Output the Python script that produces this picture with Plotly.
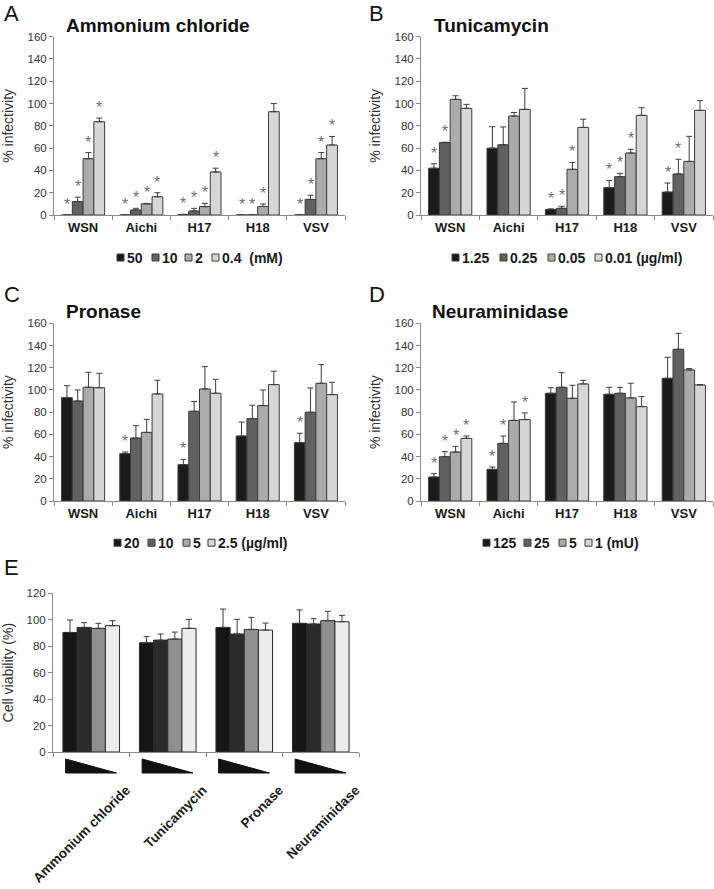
import plotly.graph_objects as go

W, H = 714, 889
FONT = "Liberation Sans, Arial, Helvetica, sans-serif"

# ---------------- data ----------------
viruses = ["WSN", "Aichi", "H17", "H18", "VSV"]

# Panel A: Ammonium chloride
A_title = "Ammonium chloride"
A_doses = ["50", "10", "2", "0.4  (mM)"]
A_vals = [
    [0, 0, 0.5, 0, 0],
    [12, 4.5, 3.6, 0, 14],
    [50.5, 10, 7.5, 7.6, 50.5],
    [83.7, 16.4, 38.6, 92.7, 62.8],
]
A_sd = [
    [0, 0, 0, 0, 0],
    [4, 1.5, 2.4, 0, 3.8],
    [5.5, 0.4, 3, 2.3, 5.5],
    [3.3, 3.6, 3.4, 7.3, 7.7],
]
A_sig = [
    [1, 1, 1, 1, 1],
    [1, 1, 1, 1, 1],
    [1, 1, 1, 1, 1],
    [1, 1, 1, 0, 1],
]

# Panel B: Tunicamycin
B_title = "Tunicamycin"
B_doses = ["1.25", "0.25", "0.05", "0.01 (µg/ml)"]
B_vals = [
    [42, 60, 5, 24.5, 20.6],
    [65, 63, 6, 34.4, 36.8],
    [103.8, 88.8, 41, 55.6, 48.1],
    [95.7, 94.8, 78.6, 89.4, 93.9],
]
B_sd = [
    [4, 19.2, 0.5, 6.5, 8.1],
    [0.3, 16, 1.8, 3, 13.2],
    [3.2, 3.2, 6.2, 3.4, 22.5],
    [3.6, 18.8, 7.4, 6.9, 8.7],
]
B_sig = [
    [1, 0, 1, 1, 1],
    [1, 0, 1, 1, 1],
    [0, 0, 1, 1, 0],
    [0, 0, 0, 0, 0],
]

# Panel C: Pronase
C_title = "Pronase"
C_doses = ["20", "10", "5", "2.5 (µg/ml)"]
C_vals = [
    [93, 42.6, 32.7, 58.5, 52.5],
    [90, 56.7, 80.8, 74.2, 79.9],
    [102.4, 61.8, 100.9, 85.9, 106],
    [102, 96.4, 97, 104.8, 95.8],
]
C_sd = [
    [10.9, 1.5, 4.8, 12.6, 8.5],
    [10, 11.1, 8.7, 12, 21.9],
    [13.5, 11.7, 20.1, 14.1, 16.8],
    [13, 12.3, 12.6, 12, 11.1],
]
C_sig = [
    [0, 1, 1, 0, 1],
    [0, 0, 0, 0, 0],
    [0, 0, 0, 0, 0],
    [0, 0, 0, 0, 0],
]

# Panel D: Neuraminidase
D_title = "Neuraminidase"
D_doses = ["125", "25", "5", "1 (mU)"]
D_vals = [
    [21.6, 28.5, 97, 96.1, 110.5],
    [39.9, 51.9, 102.4, 97, 136.6],
    [44.1, 72.6, 92.5, 92.8, 118],
    [56.4, 73.3, 105.4, 85, 104.5],
]
D_sd = [
    [3, 2.1, 5, 6.3, 18.9],
    [4.5, 6.6, 13.2, 5.4, 14.4],
    [5.1, 16.6, 11.7, 13.2, 1.2],
    [2.1, 6, 3.3, 9, 0.3],
]
D_sig = [
    [1, 1, 0, 0, 0],
    [1, 1, 0, 0, 0],
    [1, 0, 0, 0, 0],
    [1, 1, 0, 0, 0],
]

# Panel E: cell viability
treatments = ["Ammonium chloride", "Tunicamycin", "Pronase", "Neuraminidase"]
E_vals = [
    [90.4, 82.6, 94.2, 97.3],
    [94.2, 84.6, 89.2, 96.8],
    [93.5, 85.4, 92.7, 99.3],
    [95.5, 93.5, 92.2, 98.5],
]
E_sd = [
    [9.4, 4.6, 13.9, 10.1],
    [3.6, 4.6, 11.1, 4.0],
    [3.8, 5.3, 9.1, 7.1],
    [3.8, 6.8, 5.3, 4.8],
]

# ---------------- styling ----------------
COLORS = ["#1b1b1b", "#616161", "#ababab", "#d6d6d6"]
E_COLORS = ["#161616", "#2c2c2c", "#8f8f8f", "#ececec"]
AXIS_COLOR = "#8a8a8a"
BARGAP = 0.26


def xd(a, b):
    return [a / W, b / W]


def yd(bottom, top):
    return [1 - bottom / H, 1 - top / H]


panels = [
    dict(letter="A", title=A_title, doses=A_doses, vals=A_vals, sd=A_sd, sig=A_sig,
         xdom=xd(54, 345), ydom=yd(215, 36.7), letter_pos=(2, 13), title_pos=(64, 25),
         legend_y=257.5, legend_sq=[117, 152, 185, 212]),
    dict(letter="B", title=B_title, doses=B_doses, vals=B_vals, sd=B_sd, sig=B_sig,
         xdom=xd(421, 713), ydom=yd(215, 36.7), letter_pos=(367, 13), title_pos=(432, 25),
         legend_y=257.5, legend_sq=[452, 500, 548, 595]),
    dict(letter="C", title=C_title, doses=C_doses, vals=C_vals, sd=C_sd, sig=C_sig,
         xdom=xd(54, 345), ydom=yd(501, 323.3), letter_pos=(2, 294), title_pos=(64, 311.5),
         legend_y=542.7, legend_sq=[114, 148, 183, 208]),
    dict(letter="D", title=D_title, doses=D_doses, vals=D_vals, sd=D_sd, sig=D_sig,
         xdom=xd(421, 713), ydom=yd(501, 323.3), letter_pos=(367, 294), title_pos=(430, 311.5),
         legend_y=542.7, legend_sq=[483, 524, 559, 585]),
]

fig = go.Figure()
annotations = []
shapes = []

group_w = 1 - BARGAP
bar_w = group_w / 4
offsets = [-group_w / 2 + (i + 0.5) * bar_w for i in range(4)]

for k, p in enumerate(panels, start=1):
    xa = "x" if k == 1 else f"x{k}"
    ya = "y" if k == 1 else f"y{k}"
    for i in range(4):
        fig.add_trace(go.Bar(
            x=viruses, y=p["vals"][i], name=p["doses"][i],
            xaxis=xa, yaxis=ya, showlegend=False,
            marker=dict(color=COLORS[i], line=dict(color="#3c3c3c", width=1)),
            error_y=dict(type="data", symmetric=False, array=p["sd"][i],
                         arrayminus=[0] * len(viruses), color="#3c3c3c",
                         thickness=1, width=3),
        ))
        # significance asterisks
        for v in range(len(viruses)):
            if p["sig"][i][v]:
                annotations.append(dict(
                    x=v + offsets[i], y=p["vals"][i][v] + p["sd"][i][v],
                    xref=xa, yref=ya, text="*", showarrow=False,
                    xanchor="center", yanchor="bottom",
                    font=dict(size=16, color="#707070", family=FONT)))
    axkey = "xaxis" if k == 1 else f"xaxis{k}"
    aykey = "yaxis" if k == 1 else f"yaxis{k}"
    fig.layout[axkey] = dict(
        domain=p["xdom"], anchor=ya, type="category", automargin=False,
        showline=True, linecolor=AXIS_COLOR, linewidth=1,
        ticks="outside", tickson="boundaries", ticklen=4, tickcolor=AXIS_COLOR,
        tickfont=dict(size=13, color="#1a1a1a", family=FONT, weight="bold"),
        showgrid=False, zeroline=False, fixedrange=True)
    fig.layout[aykey] = dict(
        domain=p["ydom"], anchor=xa, range=[0, 160], dtick=20, automargin=False,
        showline=True, linecolor=AXIS_COLOR, linewidth=1,
        ticks="outside", ticklen=4, tickcolor=AXIS_COLOR,
        tickfont=dict(size=11.5, color="#333333", family=FONT),
        title=dict(text="% infectivity", font=dict(size=14, color="#333333", family=FONT),
                   standoff=10),
        showgrid=False, zeroline=False, fixedrange=True)
    # panel letter and title
    lx, ly = p["letter_pos"]
    annotations.append(dict(x=lx / W, y=1 - ly / H, xref="paper", yref="paper",
                            text=p["letter"], showarrow=False, xanchor="left", yanchor="middle",
                            font=dict(size=22, color="#111111", family=FONT)))
    tx, ty = p["title_pos"]
    annotations.append(dict(x=tx / W, y=1 - ty / H, xref="paper", yref="paper",
                            text="<b>" + p["title"] + "</b>", showarrow=False,
                            xanchor="left", yanchor="middle",
                            font=dict(size=19, color="#111111", family=FONT)))
    # legend (square swatch + bold label)
    for i in range(4):
        sx = p["legend_sq"][i]
        cy = p["legend_y"]
        shapes.append(dict(type="rect", xref="paper", yref="paper",
                           x0=sx / W, x1=(sx + 7) / W,
                           y0=1 - (cy + 3.5) / H, y1=1 - (cy - 3.5) / H,
                           fillcolor=COLORS[i], line=dict(color="#3c3c3c", width=1)))
        annotations.append(dict(x=(sx + 7.5) / W, y=1 - cy / H, xref="paper", yref="paper",
                                text="<b>" + p["doses"][i] + "</b>", showarrow=False,
                                xanchor="left", yanchor="middle",
                                font=dict(size=14, color="#1a1a1a", family=FONT)))

# ---------------- Panel E ----------------
for i in range(4):
    fig.add_trace(go.Bar(
        x=treatments, y=E_vals[i], name=f"dose {i + 1}",
        xaxis="x5", yaxis="y5", showlegend=False,
        marker=dict(color=E_COLORS[i], line=dict(color="#2a2a2a", width=1)),
        error_y=dict(type="data", symmetric=False, array=E_sd[i],
                     arrayminus=[0] * len(treatments), color="#3c3c3c",
                     thickness=1, width=3),
    ))

fig.layout["xaxis5"] = dict(
    domain=xd(53, 359), anchor="y5", type="category", automargin=False,
    showline=True, linecolor=AXIS_COLOR, linewidth=1,
    ticks="outside", tickson="boundaries", ticklen=4, tickcolor=AXIS_COLOR,
    tickangle=-45, ticklabelshift=35, ticklabelstandoff=24,
    tickfont=dict(size=13.5, color="#1a1a1a", family=FONT, weight="bold"),
    showgrid=False, zeroline=False, fixedrange=True)
fig.layout["yaxis5"] = dict(
    domain=yd(752, 593.3), anchor="x5", range=[0, 120], dtick=20, automargin=False,
    showline=True, linecolor=AXIS_COLOR, linewidth=1,
    ticks="outside", ticklen=4, tickcolor=AXIS_COLOR,
    tickfont=dict(size=11.5, color="#333333", family=FONT),
    title=dict(text="Cell viability (%)", font=dict(size=14, color="#333333", family=FONT),
               standoff=10),
    showgrid=False, zeroline=False, fixedrange=True)

annotations.append(dict(x=2 / W, y=1 - 567.5 / H, xref="paper", yref="paper",
                        text="E", showarrow=False, xanchor="left", yanchor="middle",
                        font=dict(size=22, color="#111111", family=FONT)))

# decreasing-dose wedges under each treatment group
for c in range(len(treatments)):
    x0, x1 = c - 0.335, c + 0.33
    ytop, ybot = 1 - 759 / H, 1 - 773 / H
    shapes.append(dict(type="path", xref="x5", yref="paper",
                       path=f"M {x0},{ytop} L {x0},{ybot} L {x1},{ybot} Z",
                       fillcolor="#111111", line=dict(color="#111111", width=1)))

fig.update_layout(
    width=W, height=H, margin=dict(l=0, r=0, t=0, b=0, autoexpand=False),
    paper_bgcolor="white", plot_bgcolor="white",
    barmode="group", bargap=BARGAP, bargroupgap=0,
    showlegend=False, font=dict(family=FONT, color="#222222"),
    annotations=annotations, shapes=shapes,
)

fig.write_html("out.html", config={"displayModeBar": False},
               post_script="document.body.style.margin='0px';")
